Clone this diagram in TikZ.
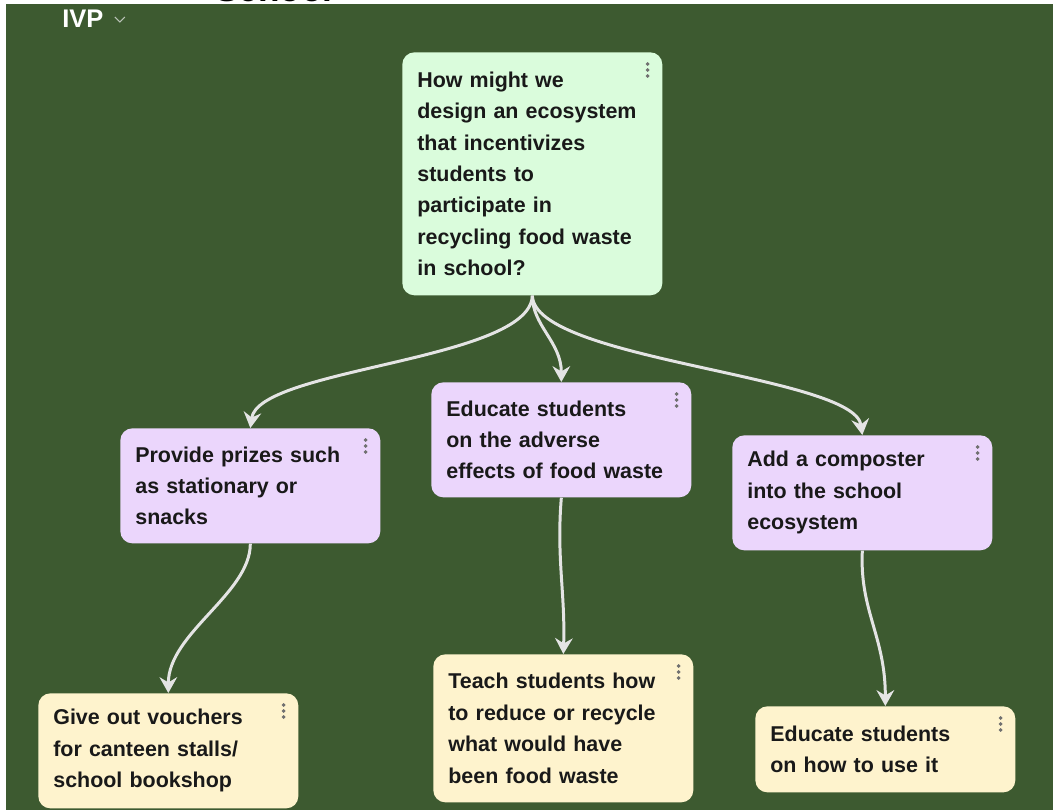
\documentclass[tikz,border=0pt]{standalone}
\usepackage{fontspec}
\setmainfont{Liberation Sans}
\usetikzlibrary{arrows.meta}

\definecolor{board}{HTML}{3D5A30}
\definecolor{qgreen}{HTML}{DAFCDC}
\definecolor{idea}{HTML}{EBD6FC}
\definecolor{action}{HTML}{FEF3CD}
\definecolor{linkgrey}{HTML}{E4E4E4}
\definecolor{dotgrey}{HTML}{707070}

% three dots in the upper right corner of a card
\newcommand\cardmenu[1]{%
  \foreach \k in {0,1,2}
    {\fill[dotgrey] ([xshift=-0.3cm, yshift=-0.24cm-\k*0.12cm]#1.north east) circle (1.1pt);}}

\begin{document}
\begin{tikzpicture}[x=0.02cm, y=-0.02cm,
    card/.style={rectangle, rounded corners=0.24cm, anchor=north west,
      minimum width=5.2cm, text width=4.6cm, inner xsep=0.3cm, align=left,
      font=\bfseries\fontsize{12.2}{17.9}\selectfont, text=black!90},
    link/.style={draw=linkgrey, line width=1.7pt,
      -{Stealth[length=9pt, width=10pt, inset=3pt]}}]
    \fill[white] (0, 0) rectangle (1053, 810);
    \fill[board] (6, 4) rectangle (1053, 810);

    % header
    \begin{scope}
	\clip (0, 0) rectangle (1053, 4);
	\node [anchor=base, font=\bfseries\fontsize{20}{24}\selectfont] (title) at (274, 2) {School};
    \end{scope}
    \node [anchor=west, text=white, font=\bfseries\fontsize{14.5}{17}\selectfont,
	inner sep=0pt] (ivp) at (62, 19) {IVP};
    \draw [linkgrey!75!board, line width=0.6pt]
	([shift={(11, -2)}]ivp.east) -- ++(5, 5) -- ++(5, -5);

    % cards
    \node [card, fill=qgreen, minimum height=4.86cm] (q) at (402, 52)
	{How might we\\design an ecosystem\\that incentivizes\\students to\\participate in\\recycling food waste\\in school?};
    \node [card, fill=idea, minimum height=2.3cm] (prizes) at (120, 428)
	{Provide prizes such\\as stationary or\\snacks};
    \node [card, fill=idea, minimum height=2.3cm] (educate) at (431, 382)
	{Educate students\\on the adverse\\effects of food waste};
    \node [card, fill=idea, minimum height=2.3cm] (composter) at (732, 435)
	{Add a composter\\into the school\\ecosystem};
    \node [card, fill=action, minimum height=2.3cm] (vouchers) at (38, 693)
	{Give out vouchers\\for canteen stalls/\\school bookshop};
    \node [card, fill=action, minimum height=2.96cm] (teach) at (433, 654)
	{Teach students how\\to reduce or recycle\\what would have\\been food waste};
    \node [card, fill=action, minimum height=1.72cm] (useit) at (755, 706)
	{Educate students\\on how to use it};

    \foreach \c in {q, prizes, educate, composter, vouchers, teach, useit}
	{\cardmenu{\c}}

    % connectors
    \draw [link] (q.south) .. controls +(-2, 65) and +(8, -60) .. (prizes.north);
    \draw [link] (q.south) .. controls +(0, 30) and +(0, -40) .. (educate.north);
    \draw [link] (q.south) .. controls +(2, 65) and +(-8, -60) .. (composter.north);
    \draw [link] (prizes.south) .. controls +(0, 50) and +(0, -60) .. (vouchers.north);
    \draw [link] (educate.south) .. controls +(-5, 60) and +(2, -60) .. (teach.north);
    \draw [link] (composter.south) .. controls +(-3, 60) and +(0, -70) .. (useit.north);
\end{tikzpicture}
\end{document}
